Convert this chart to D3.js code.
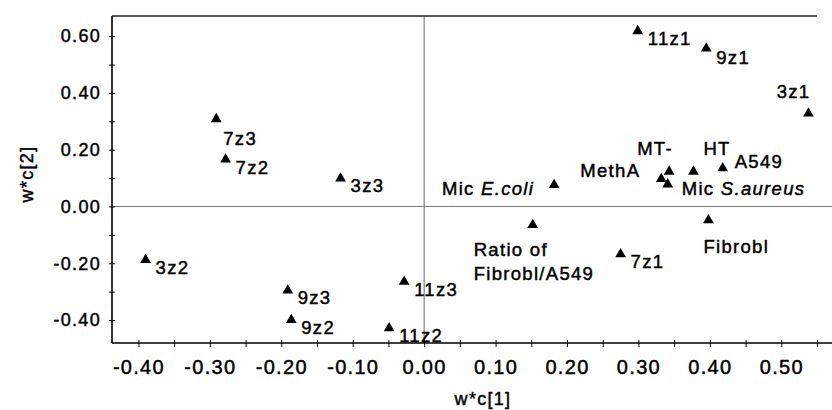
<!DOCTYPE html>
<html>
<head>
<meta charset="utf-8">
<script src="https://cdn.jsdelivr.net/npm/d3@7"></script>
<style>
  body { margin: 0; background: #fff; }
  text { font-family: "Liberation Sans", Arial, sans-serif; fill: #000; stroke: #000; stroke-width: 0.45px; letter-spacing: 1.3px; }
</style>
</head>
<body>
<div id="wrapper"></div>
<script>
// loadings plot data
const labels = ["11z1", "9z1", "3z1", "7z3", "7z2", "3z3", "Mic E.coli", "MethA", "MT-",
  "Mic S.aureus", "HT", "A549", "Ratio of\nFibrobl/A549", "Fibrobl", "7z1", "3z2", "9z3",
  "9z2", "11z2", "11z3"];
const wc1 = [0.299, 0.395, 0.538, -0.291, -0.278, -0.117, 0.182, 0.332, 0.343,
  0.341, 0.377, 0.418, 0.152, 0.398, 0.275, -0.390, -0.191, -0.186, -0.049, -0.028];
const wc2 = [0.618, 0.557, 0.328, 0.308, 0.166, 0.099, 0.076, 0.097, 0.123,
  0.078, 0.123, 0.135, -0.065, -0.048, -0.168, -0.188, -0.296, -0.400, -0.429, -0.265];
const xTicks = [-0.40, -0.30, -0.20, -0.10, 0.00, 0.10, 0.20, 0.30, 0.40, 0.50];
const yTicks = [-0.40, -0.20, 0.00, 0.20, 0.40, 0.60];

const dataset = labels.map((d, i) => ({ label: d, x: wc1[i], y: wc2[i] }));

// label placement (dx, dy from the marker, text anchor)
const labelPlace = {
  "3z1": [2, -15, "end"],
  "7z3": [7, 26, "start"],
  "7z2": [10, 15, "start"],
  "Mic E.coli": [-20, 10, "end"],
  "MethA": [-21, -2, "end"],
  "MT-": [-32, -17, "start"],
  "HT": [10, -17, "start"],
  "A549": [12, 0, "start"],
  "Mic S.aureus": [14, 11, "start"],
  "Ratio of\nFibrobl/A549": [-59, 31, "start"],
  "Fibrobl": [-5, 33, "start"],
  "9z1": [10, 16, "start"],
};

async function drawChart() {
  const dimensions = {
    width: 832,
    height: 410,
    margin: { top: 16, right: 0, bottom: 67, left: 112 },
  };
  dimensions.boundedWidth = dimensions.width - dimensions.margin.left - dimensions.margin.right;
  dimensions.boundedHeight = dimensions.height - dimensions.margin.top - dimensions.margin.bottom;

  const wrapper = d3.select("#wrapper")
    .append("svg")
    .attr("width", dimensions.width)
    .attr("height", dimensions.height);

  const bounds = wrapper.append("g")
    .attr("transform", `translate(${dimensions.margin.left},${dimensions.margin.top})`);

  const xScale = d3.scaleLinear()
    .domain([-0.437, 0.571])
    .range([0, dimensions.boundedWidth]);

  const yScale = d3.scaleLinear()
    .domain([-0.481, 0.671])
    .range([dimensions.boundedHeight, 0]);

  const fmt = (d) => d.toFixed(2);

  // zero lines
  bounds.append("line")
    .attr("x1", 0).attr("x2", dimensions.boundedWidth)
    .attr("y1", yScale(0)).attr("y2", yScale(0))
    .attr("stroke", "#777").attr("stroke-width", 1);
  bounds.append("line")
    .attr("x1", xScale(0)).attr("x2", xScale(0))
    .attr("y1", 0).attr("y2", dimensions.boundedHeight)
    .attr("stroke", "#666").attr("stroke-width", 1);

  // top frame line
  bounds.append("line")
    .attr("x1", 0).attr("x2", xScale(0.55))
    .attr("y1", 0).attr("y2", 0)
    .attr("stroke", "#222").attr("stroke-width", 1.3);

  // x axis
  const xMinor = bounds.append("g")
    .attr("transform", `translate(0,${dimensions.boundedHeight})`)
    .call(d3.axisBottom(xScale).tickValues(d3.range(-0.40, 0.551, 0.05)).tickSize(4).tickFormat(""));
  xMinor.select(".domain").remove();
  xMinor.selectAll(".tick line").attr("y1", -3).attr("y2", 4).attr("stroke", "#111");

  const xAxis = bounds.append("g")
    .attr("transform", `translate(0,${dimensions.boundedHeight})`)
    .call(d3.axisBottom(xScale).tickValues(xTicks).tickSize(0).tickFormat(fmt));
  xAxis.select(".domain").remove();
  xAxis.selectAll("text")
    .attr("y", 31)
    .attr("dy", 0)
    .style("font-size", "20px");
  bounds.append("line")
    .attr("x1", 0).attr("x2", dimensions.boundedWidth)
    .attr("y1", dimensions.boundedHeight).attr("y2", dimensions.boundedHeight)
    .attr("stroke", "#000").attr("stroke-width", 1.6);

  // y axis
  const yMinor = bounds.append("g")
    .call(d3.axisLeft(yScale).tickValues(d3.range(-0.40, 0.601, 0.1)).tickSize(3).tickFormat(""));
  yMinor.select(".domain").remove();
  yMinor.selectAll(".tick line").attr("x1", 3).attr("x2", -3).attr("stroke", "#111");

  const yAxis = bounds.append("g")
    .call(d3.axisLeft(yScale).tickValues(yTicks).tickSize(0).tickFormat(fmt));
  yAxis.select(".domain").remove();
  yAxis.selectAll("text")
    .attr("x", -11)
    .style("font-size", "18px");
  bounds.append("line")
    .attr("x1", 0).attr("x2", 0)
    .attr("y1", 0).attr("y2", dimensions.boundedHeight)
    .attr("stroke", "#000").attr("stroke-width", 1.6);

  // axis titles
  wrapper.append("text")
    .attr("x", 483)
    .attr("y", 405)
    .attr("text-anchor", "middle")
    .style("font-size", "18px")
    .text("w*c[1]");
  wrapper.append("text")
    .attr("transform", "translate(27,174) rotate(-90)")
    .attr("text-anchor", "middle")
    .attr("dy", "0.35em")
    .style("font-size", "18px")
    .text("w*c[2]");

  // markers
  const tri = d3.symbol().type(d3.symbolTriangle).size(50);
  bounds.selectAll(".marker")
    .data(dataset)
    .join("path")
    .attr("class", "marker")
    .attr("d", tri)
    .attr("transform", (d) => `translate(${xScale(d.x)},${yScale(d.y)})`)
    .attr("fill", "#000");

  // point labels
  const labelGroup = bounds.append("g");
  dataset.forEach((d) => {
    const [dx, dy, anchor] = labelPlace[d.label] || [10, 14, "start"];
    const t = labelGroup.append("text")
      .attr("x", xScale(d.x) + dx)
      .attr("y", yScale(d.y) + dy)
      .attr("text-anchor", anchor)
      .style("font-size", "18.5px");
    const lines = d.label.split("\n");
    lines.forEach((line, i) => {
      if (line.startsWith("Mic ")) {
        t.append("tspan").text("Mic ");
        t.append("tspan").style("font-style", "italic").text(line.slice(4));
      } else {
        t.append("tspan")
          .attr("x", xScale(d.x) + dx)
          .attr("dy", i == 0 ? 0 : 24)
          .text(line);
      }
    });
  });
}
drawChart();
</script>
</body>
</html>
